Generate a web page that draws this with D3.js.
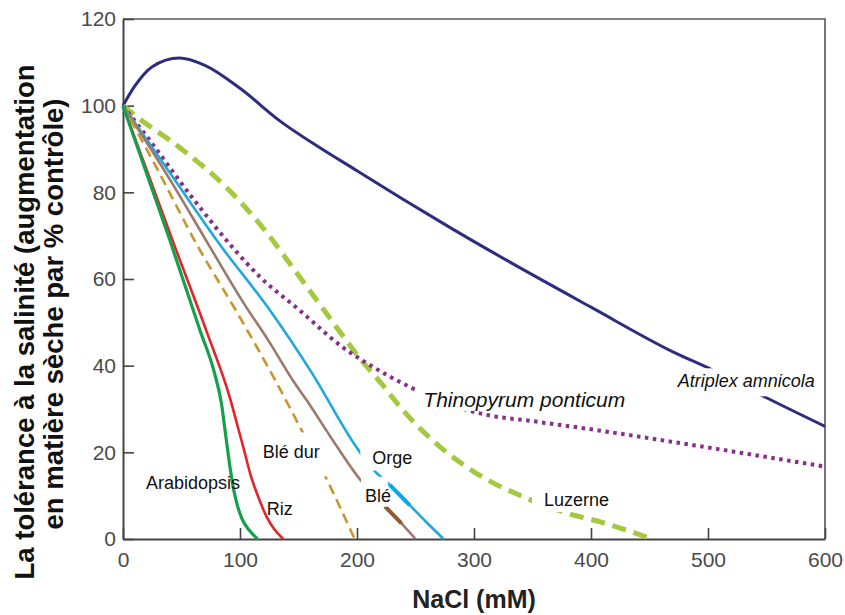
<!DOCTYPE html>
<html><head><meta charset="utf-8">
<script src="https://cdn.jsdelivr.net/npm/d3@7"></script>
<style>body{margin:0;background:#fff} svg{display:block}</style>
</head><body><svg id="c" width="845" height="615"></svg>
<script>
// ---- data ----
const xTickValues = [0, 100, 200, 300, 400, 500, 600];
const yTickValues = [0, 20, 40, 60, 80, 100, 120];

const atriplex = [[0,100],[10,104.5],[25,109],[48,111],[70,109.3],[100,104],[134,96.5],[170,90],[200,85],[240,78.3],[280,71.8],[330,64],[400,53.5],[470,43.2],[504,39],[550,32.6],[600,26]];
const luzerne = [[0,100],[10,97.8],[50,90],[87,81.5],[108,75.5],[124,70.3],[140,64.5],[155,59],[180,49.8],[200,42.5],[222,35.5],[239,29.8],[270,21.5],[300,15.5],[345,9.4],[379,6],[410,3.8],[452,0]];
const thinopyrum = [[0,100],[20,93],[60,78.5],[93,67.5],[117,60.5],[150,53],[187,44.4],[215,39.5],[245,35.1],[275,31.5],[308,28.8],[350,27.2],[408,25],[465,22.6],[521,20.2],[600,16.7]];
const orge = [[0,100],[40,84.5],[84,67.5],[125,53],[161,38.5],[200,21],[214,16],[228,12.5],[245,7.8],[260,3.7],[274,0]];
const ble = [[0,100],[40,83],[73,68],[103,54.5],[125,45.5],[145,36.7],[157,32],[180,22.5],[203,13.6],[224,7.5],[238,3.6],[250,0]];
const bleDur = [[0,100],[30,85],[64,67.5],[97,52.5],[130,36.7],[154,24.4],[173,14.4],[198,0]];
const riz = [[0,100],[45,67],[72,47.5],[92,32],[98,26],[104,20],[109,14.8],[114.5,10.5],[123,5],[130,2],[137,0]];
const arabidopsis = [[0,100],[40,69],[66,48],[78,38.5],[84,31.5],[88,23.5],[91.5,16.5],[94.5,11.5],[98,7.5],[102,4.5],[108,2],[115,0]];
const orgeHighlight = [[228,12.5],[245,7.8]];
const bleHighlight = [[224,7.5],[238,3.6]];

// ---- styles ----
const seriesStyles = [
  {data: atriplex,    color: "#2d2c7f", width: 3,   dash: null},
  {data: luzerne,     color: "#a5c93d", width: 5,   dash: "14 8"},
  {data: thinopyrum,  color: "#86308a", width: 4,   dash: "3.5 4.5"},
  {data: orge,        color: "#1fa8e0", width: 2.6, dash: null},
  {data: ble,         color: "#9b7a6c", width: 2.6, dash: null},
  {data: bleDur,      color: "#c9952c", width: 2.6, dash: "10 6"},
  {data: riz,         color: "#e2252b", width: 2.6, dash: null},
  {data: arabidopsis, color: "#17a04b", width: 3.2, dash: null},
  {data: orgeHighlight, color: "#02a9ee", width: 4, dash: null},
  {data: bleHighlight,  color: "#8e5a2e", width: 4, dash: null}
];

const labels = [
  {text: "Arabidopsis", x: 19.7, y: 11.5, size: 18, italic: false, pad: null},
  {text: "Riz", x: 122.8, y: 5.5, size: 18, italic: false, pad: null},
  {text: "Blé dur", x: 119.4, y: 18.6, size: 18, italic: false, pad: [10, 7, 14, 6]},
  {text: "Orge", x: 213.1, y: 17.4, size: 18, italic: false, pad: [2, 4, 3, 12]},
  {text: "Blé", x: 206.8, y: 8.6, size: 18, italic: false, pad: [9, -3, 1, 4]},
  {text: "Thinopyrum ponticum", x: 256.7, y: 30.5, size: 21, italic: true, pad: [4, 3, 0, 7]},
  {text: "Luzerne", x: 359.8, y: 7.6, size: 18, italic: false, pad: [2, 5, 2, 12]},
  {text: "Atriplex amnicola", x: 474.1, y: 35.0, size: 18, italic: true, pad: [3, 4, 5, 4]}
];

const FONT = "'Liberation Sans', Arial, Helvetica, sans-serif";
const svg = d3.select("#c");
const x = d3.scaleLinear().domain([0, 600]).range([123, 825]);
const y = d3.scaleLinear().domain([0, 120]).range([539, 19]);

// frame (top & right)
svg.append("path")
  .attr("d", `M${x(0)},${y(120)}H${x(600)}V${y(0)}`)
  .attr("fill", "none").attr("stroke", "#555").attr("stroke-width", 1.6);

// axes
const yAxis = d3.axisLeft(y).tickValues(yTickValues).tickSizeInner(-11).tickSizeOuter(0).tickPadding(7);
const xAxis = d3.axisBottom(x).tickValues(xTickValues).tickSizeInner(-11).tickSizeOuter(0).tickPadding(13);
const gy = svg.append("g").attr("transform", `translate(${x(0)},0)`).call(yAxis);
const gx = svg.append("g").attr("transform", `translate(0,${y(0)})`).call(xAxis);
[gx, gy].forEach(g => {
  g.select(".domain").attr("stroke", "#444").attr("stroke-width", 2);
  g.selectAll(".tick line").attr("stroke", "#444").attr("stroke-width", 1.6);
  g.selectAll(".tick text").attr("fill", "#4a4a4a").style("font-family", FONT).style("font-size", "21px");
});

// lines
const line = d3.line().x(d => x(d[0])).y(d => y(d[1])).curve(d3.curveMonotoneX);
seriesStyles.forEach(s => {
  svg.append("path").datum(s.data)
    .attr("d", line)
    .attr("fill", "none")
    .attr("stroke", s.color)
    .attr("stroke-width", s.width)
    .attr("stroke-dasharray", s.dash)
    .attr("stroke-linecap", "butt");
});

// labels
labels.forEach(l => {
  const g = svg.append("g");
  const t = g.append("text")
    .attr("x", x(l.x)).attr("y", y(l.y))
    .style("font-family", FONT).style("font-size", l.size + "px")
    .style("font-style", l.italic ? "italic" : "normal")
    .attr("fill", "#111")
    .text(l.text);
  if (l.pad) {
    const b = t.node().getBBox();
    g.insert("rect", "text")
      .attr("x", b.x - l.pad[3]).attr("y", b.y - l.pad[0])
      .attr("width", b.width + l.pad[1] + l.pad[3])
      .attr("height", b.height + l.pad[0] + l.pad[2])
      .attr("fill", "#fff");
  }
});

// axis titles
svg.append("text")
  .attr("x", 474).attr("y", 608).attr("text-anchor", "middle")
  .style("font-family", FONT).style("font-size", "25px").style("font-weight", "bold")
  .attr("fill", "#222").text("NaCl (mM)");
svg.append("text")
  .attr("transform", "translate(34,322) rotate(-90)").attr("text-anchor", "middle")
  .style("font-family", FONT).style("font-size", "27.5px").style("font-weight", "bold")
  .attr("fill", "#111").text("La tolérance à la salinité (augmentation");
svg.append("text")
  .attr("transform", "translate(63,314) rotate(-90)").attr("text-anchor", "middle")
  .style("font-family", FONT).style("font-size", "27.5px").style("font-weight", "bold")
  .attr("fill", "#111").text("en matière sèche par % contrôle)");
</script>
</body></html>
